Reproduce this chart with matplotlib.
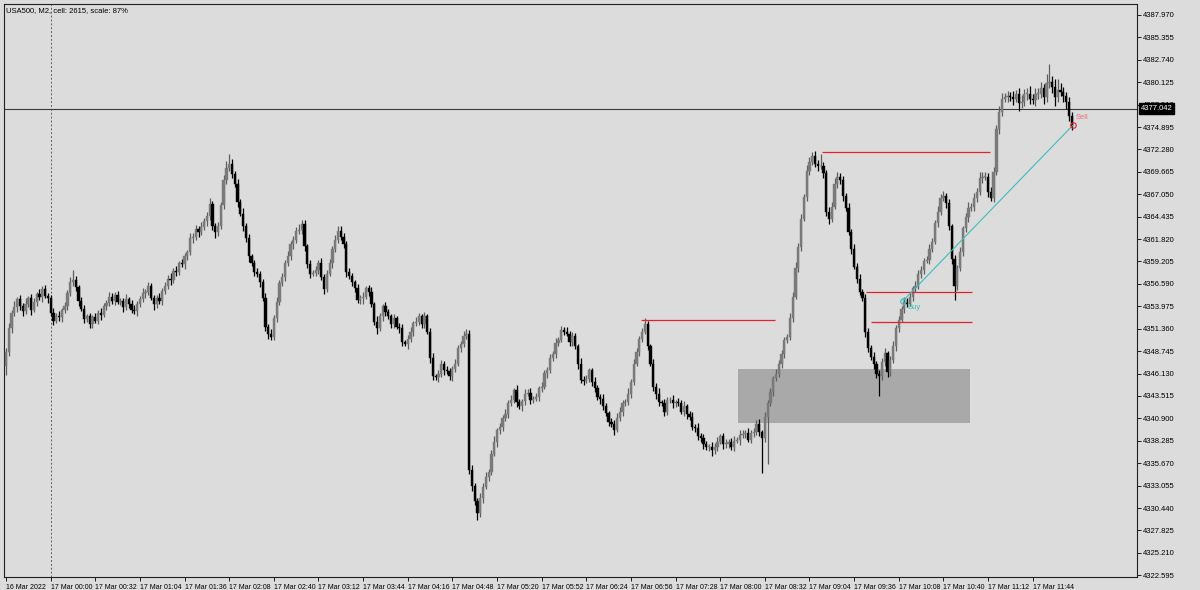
import matplotlib
matplotlib.use("Agg")
import matplotlib.pyplot as plt
from matplotlib.patches import Rectangle
import numpy as np

plt.rcParams['font.family'] = ['Liberation Sans', 'DejaVu Sans']

# ---------------- data ----------------
title_text = "USA500, M2, cell: 2615, scale: 87%"
first_open = 4347.0
closes = [
    4348.6, 4351.4, 4353.2, 4353.9, 4354.8, 4354.0, 4353.4, 4354.3, 4354.9, 4353.6,
    4354.5, 4355.4, 4355.1, 4356.0, 4355.2, 4354.9, 4353.2, 4352.3, 4352.9, 4352.7,
    4353.5, 4354.0, 4355.5, 4356.8, 4357.1, 4356.2, 4354.6, 4353.7, 4352.5, 4352.8,
    4351.9, 4352.7, 4352.3, 4353.2, 4353.0, 4354.0, 4354.4, 4355.1, 4354.6, 4355.3,
    4354.5, 4354.6, 4353.9, 4354.8, 4354.3, 4353.6, 4353.4, 4354.3, 4354.8, 4355.5,
    4355.7, 4356.3, 4355.0, 4354.2, 4354.9, 4354.6, 4355.8, 4356.3, 4357.2, 4357.0,
    4358.1, 4358.0, 4359.0, 4358.9, 4359.8, 4360.3, 4361.9, 4362.1, 4363.0, 4362.7,
    4363.2, 4363.9, 4364.5, 4365.9, 4363.4, 4362.6, 4363.3, 4365.8, 4368.7, 4370.1,
    4370.6, 4369.4, 4368.3, 4366.2, 4364.8, 4363.3, 4361.9, 4359.8, 4359.0, 4358.0,
    4357.8, 4356.8, 4354.9, 4351.6, 4350.8, 4350.4, 4352.6, 4354.5, 4356.7, 4357.4,
    4359.0, 4359.8, 4361.3, 4361.7, 4362.8, 4362.9, 4363.6, 4361.0, 4358.9, 4357.8,
    4357.9, 4358.2, 4359.0, 4357.4, 4356.0, 4357.8, 4359.0, 4360.7, 4361.7, 4362.8,
    4362.1, 4361.3, 4358.0, 4357.5, 4356.8, 4356.1, 4354.7, 4354.9, 4355.1, 4356.1,
    4355.7, 4354.2, 4352.2, 4351.4, 4352.8, 4354.0, 4353.3, 4352.8, 4351.9, 4352.6,
    4351.6, 4351.4, 4349.8, 4349.6, 4350.2, 4351.0, 4352.0, 4352.2, 4352.8, 4351.9,
    4352.8, 4351.0, 4347.9, 4345.8, 4345.7, 4346.1, 4347.3, 4346.5, 4346.4, 4345.8,
    4346.7, 4347.3, 4349.1, 4349.6, 4350.5, 4350.8, 4334.9, 4333.0, 4331.2, 4329.8,
    4331.6, 4332.9, 4334.1, 4334.7, 4336.8, 4338.2, 4339.5, 4339.9, 4340.9, 4341.4,
    4342.7, 4343.1, 4344.2, 4342.8, 4342.3, 4342.9, 4343.8, 4343.9, 4343.1, 4343.2,
    4343.4, 4344.4, 4344.6, 4346.2, 4346.6, 4347.9, 4348.4, 4349.7, 4350.1, 4351.2,
    4351.0, 4350.8, 4349.8, 4350.5, 4349.3, 4347.3, 4345.4, 4345.3, 4345.5, 4346.5,
    4345.2, 4344.4, 4343.4, 4343.2, 4342.3, 4341.5, 4340.5, 4340.3, 4339.6, 4340.9,
    4341.7, 4342.7, 4342.8, 4343.8, 4345.2, 4347.3, 4348.7, 4350.2, 4351.0, 4351.9,
    4349.3, 4347.3, 4344.6, 4343.8, 4342.8, 4342.7, 4341.7, 4343.0, 4343.1, 4342.7,
    4342.8, 4342.7, 4341.7, 4342.3, 4341.4, 4341.1, 4339.9, 4339.8, 4338.8, 4338.6,
    4337.9, 4337.6, 4337.6, 4337.2, 4337.6, 4338.2, 4338.8, 4337.9, 4337.9, 4338.2,
    4337.6, 4338.3, 4338.4, 4339.0, 4339.1, 4339.2, 4338.4, 4339.2, 4339.3, 4340.3,
    4339.3, 4338.6, 4341.1, 4342.7, 4344.0, 4345.6, 4346.1, 4347.3, 4348.4, 4350.0,
    4350.4, 4352.6, 4355.1, 4358.4, 4360.9, 4364.2, 4366.7, 4369.8, 4370.8, 4371.5,
    4370.6, 4370.3, 4370.3, 4369.5, 4365.0, 4364.2, 4365.6, 4368.3, 4369.1, 4368.7,
    4366.8, 4365.4, 4362.7, 4360.7, 4358.6, 4357.2, 4355.7, 4354.9, 4351.0, 4349.1,
    4348.1, 4347.3, 4346.1, 4345.8, 4347.5, 4348.5, 4346.3, 4347.7, 4349.3, 4351.4,
    4352.4, 4353.7, 4354.5, 4354.3, 4355.1, 4356.1, 4356.3, 4357.8, 4358.2, 4359.3,
    4359.4, 4360.7, 4361.5, 4363.7, 4365.0, 4366.6, 4366.8, 4366.0, 4363.3, 4359.5,
    4356.3, 4358.4, 4360.3, 4363.1, 4364.4, 4365.4, 4365.6, 4366.6, 4367.3, 4368.9,
    4369.1, 4369.1, 4367.3, 4366.6, 4369.7, 4374.7, 4376.7, 4378.2, 4378.4, 4378.5,
    4378.4, 4378.2, 4378.8, 4377.7, 4377.8, 4378.8, 4378.8, 4378.2, 4378.1, 4378.8,
    4378.8, 4379.4, 4378.4, 4380.0, 4380.2, 4379.6, 4378.4, 4379.2, 4379.0, 4378.5,
    4377.8, 4376.2, 4375.0,
]
upper_wick = [
    0.5, 0.6, 0.4, 0.7, 0.3, 0.5, 0.4, 0.6, 0.3, 0.5,
    0.4, 0.3, 0.6, 0.4, 0.5, 0.3, 0.4, 0.6, 0.3, 0.5,
    0.3, 0.5, 0.4, 0.6, 1.1, 0.4, 0.3, 0.5, 0.4, 0.3,
    0.4, 0.3, 0.5, 0.3, 0.6, 0.4, 0.3, 0.5, 0.4, 0.3,
    0.5, 0.3, 0.4, 0.6, 0.3, 0.4, 0.5, 0.3, 0.4, 0.6,
    0.3, 0.5, 0.4, 0.3, 0.4, 0.6, 0.3, 0.5, 0.4, 0.7,
    0.4, 0.6, 0.3, 0.5, 0.4, 0.3, 0.6, 0.4, 0.5, 0.3,
    0.6, 0.4, 0.5, 0.7, 0.4, 0.3, 0.5, 0.4, 0.6, 0.8,
    1.1, 0.6, 0.4, 0.5, 0.3, 0.6, 0.4, 0.5, 0.3, 0.4,
    0.5, 0.3, 0.4, 0.6, 0.3, 0.5, 0.4, 0.6, 0.4, 0.5,
    0.4, 0.6, 0.3, 0.5, 0.4, 0.7, 0.5, 0.4, 0.3, 0.5,
    0.3, 0.5, 0.4, 0.6, 0.3, 0.4, 0.5, 0.3, 0.6, 0.5,
    0.6, 0.4, 0.3, 0.5, 0.4, 0.3, 0.5, 0.4, 0.6, 0.3,
    0.4, 0.5, 0.3, 0.6, 0.4, 0.3, 0.5, 0.4, 0.3, 0.5,
    0.3, 0.4, 0.5, 0.3, 0.4, 0.6, 0.3, 0.5, 0.4, 0.3,
    0.5, 0.3, 0.4, 0.6, 0.3, 0.5, 0.4, 0.3, 0.5, 0.4,
    0.3, 0.5, 0.4, 0.3, 0.6, 0.5, 0.4, 0.6, 0.3, 0.4,
    0.6, 0.4, 0.5, 0.3, 0.4, 0.6, 0.3, 0.5, 0.4, 0.6,
    0.4, 0.5, 0.3, 0.6, 0.4, 0.3, 0.5, 0.4, 0.6, 0.3,
    0.5, 0.3, 0.6, 0.4, 0.3, 0.5, 0.4, 0.6, 0.3, 0.5,
    0.4, 0.6, 0.3, 0.5, 0.4, 0.3, 0.6, 0.4, 0.5, 0.3,
    0.3, 0.5, 0.4, 0.3, 0.6, 0.4, 0.3, 0.5, 0.4, 0.6,
    0.5, 0.3, 0.4, 0.6, 0.3, 0.5, 0.4, 0.3, 0.5, 0.7,
    0.4, 0.3, 0.5, 0.4, 0.6, 0.3, 0.5, 0.4, 0.3, 0.5,
    0.3, 0.5, 0.4, 0.6, 0.3, 0.4, 0.5, 0.3, 0.6, 0.4,
    0.5, 0.4, 0.3, 0.6, 0.4, 0.5, 0.3, 0.4, 0.6, 0.3,
    0.4, 0.6, 0.3, 0.5, 0.4, 0.3, 0.6, 0.4, 0.5, 0.4,
    0.5, 0.3, 0.6, 0.4, 0.5, 0.3, 0.6, 0.4, 0.5, 0.4,
    0.4, 0.6, 0.5, 0.7, 0.5, 0.6, 0.4, 0.7, 0.6, 0.5,
    0.6, 0.4, 1.5, 0.5, 0.4, 0.6, 0.5, 0.7, 0.5, 0.4,
    0.5, 0.4, 0.6, 0.3, 0.5, 0.4, 0.6, 0.3, 0.5, 0.4,
    0.4, 0.6, 0.3, 0.5, 0.4, 0.6, 0.3, 0.5, 0.6, 0.4,
    0.5, 0.3, 0.6, 0.4, 0.5, 0.3, 0.6, 0.4, 0.5, 0.3,
    0.4, 0.6, 0.5, 0.4, 0.7, 0.5, 0.6, 0.4, 0.5, 0.3,
    0.5, 0.4, 0.6, 0.3, 0.5, 0.7, 0.4, 0.6, 0.5, 0.8,
    0.6, 0.5, 0.4, 0.6, 0.5, 0.4, 0.6, 0.7, 0.5, 0.6,
    0.5, 0.7, 0.4, 0.6, 0.8, 0.5, 0.6, 0.9, 0.5, 0.7,
    0.6, 0.8, 0.5, 1.1, 2.1, 0.7, 0.9, 1.3, 0.8, 0.6,
    0.5, 0.6, 0.4,
]
lower_wick = [
    1.0, 0.4, 0.5, 0.3, 0.6, 0.4, 0.5, 0.3, 0.4, 0.6,
    0.3, 0.5, 0.4, 0.6, 0.3, 0.5, 0.4, 0.5, 0.3, 0.4,
    0.5, 0.3, 0.4, 0.3, 0.5, 0.4, 0.6, 0.3, 0.5, 0.4,
    0.4, 0.5, 0.3, 0.4, 0.6, 0.3, 0.5, 0.4, 0.3, 0.5,
    0.3, 0.4, 0.6, 0.3, 0.5, 0.4, 0.3, 0.5, 0.4, 0.3,
    0.5, 0.4, 0.3, 0.6, 0.4, 0.3, 0.5, 0.4, 0.3, 0.5,
    0.3, 0.5, 0.4, 0.3, 0.6, 0.4, 0.3, 0.5, 0.4, 0.6,
    0.4, 0.3, 0.6, 0.4, 0.5, 0.6, 0.4, 0.3, 0.5, 0.4,
    0.3, 0.5, 0.4, 0.6, 0.3, 0.5, 0.4, 0.6, 0.3, 0.5,
    0.4, 0.6, 0.3, 0.5, 0.6, 0.4, 0.3, 0.5, 0.4, 0.3,
    0.5, 0.3, 0.4, 0.6, 0.3, 0.4, 0.5, 0.6, 0.4, 0.5,
    0.3, 0.4, 0.5, 0.3, 0.6, 0.4, 0.3, 0.5, 0.4, 0.3,
    0.4, 0.5, 0.6, 0.3, 0.4, 0.5, 0.3, 0.4, 0.6, 0.3,
    0.5, 0.3, 0.4, 0.6, 0.3, 0.5, 0.4, 0.3, 0.5, 0.4,
    0.3, 0.5, 0.4, 0.3, 0.6, 0.4, 0.5, 0.3, 0.4, 0.5,
    0.4, 0.3, 0.5, 0.4, 0.3, 0.6, 0.4, 0.5, 0.3, 0.4,
    0.5, 0.4, 0.3, 0.5, 0.4, 0.3, 0.5, 0.6, 0.4, 0.8,
    0.4, 0.6, 0.3, 0.5, 0.4, 0.3, 0.6, 0.4, 0.5, 0.3,
    0.5, 0.3, 0.4, 0.6, 0.3, 0.5, 0.4, 0.3, 0.5, 0.4,
    0.3, 0.5, 0.4, 0.3, 0.6, 0.4, 0.3, 0.5, 0.4, 0.3,
    0.4, 0.3, 0.5, 0.4, 0.3, 0.6, 0.4, 0.5, 0.3, 0.4,
    0.5, 0.4, 0.3, 0.6, 0.4, 0.3, 0.5, 0.4, 0.6, 0.3,
    0.3, 0.5, 0.4, 0.3, 0.5, 0.4, 0.3, 0.5, 0.4, 0.3,
    0.4, 0.3, 0.5, 0.6, 0.4, 0.3, 0.5, 0.4, 0.3, 0.6,
    0.5, 0.4, 0.3, 0.5, 0.6, 0.4, 0.3, 0.5, 0.4, 0.5,
    0.6, 0.4, 0.5, 0.7, 0.4, 0.5, 0.3, 0.6, 0.4, 0.5,
    0.4, 0.5, 0.3, 0.6, 0.4, 0.5, 0.3, 0.4, 0.5, 0.3,
    0.5, 4.1, 0.4, 5.5, 0.4, 0.5, 0.3, 0.4, 0.5, 0.4,
    0.3, 0.4, 0.5, 0.3, 0.4, 0.5, 0.3, 0.4, 0.5, 0.3,
    0.4, 0.5, 0.3, 0.6, 0.5, 0.6, 0.4, 0.3, 0.5, 0.4,
    0.5, 0.3, 0.4, 0.6, 0.3, 0.5, 0.4, 0.3, 0.6, 0.5,
    0.4, 0.6, 0.5, 2.3, 0.4, 0.5, 0.6, 0.4, 0.3, 0.5,
    0.4, 0.3, 0.5, 0.4, 0.3, 0.5, 0.4, 0.3, 0.5, 0.4,
    0.3, 0.5, 0.4, 0.3, 0.5, 0.4, 0.3, 0.5, 0.4, 0.6,
    1.6, 0.4, 0.3, 0.5, 0.4, 0.6, 0.3, 0.5, 0.4, 0.3,
    0.5, 0.4, 0.6, 0.3, 0.5, 0.4, 0.6, 0.5, 0.4, 0.6,
    0.5, 0.7, 0.4, 0.9, 0.6, 0.5, 0.7, 0.6, 0.5, 0.8,
    0.6, 0.5, 0.8, 0.6, 0.5, 0.7, 1.0, 0.6, 0.5, 0.7,
    0.8, 0.6, 0.5,
]

price_ticks = [4322.595, 4325.210, 4327.825, 4330.440, 4333.055, 4335.670, 4338.285,
               4340.900, 4343.515, 4346.130, 4348.745, 4351.360, 4353.975, 4356.590,
               4359.205, 4361.820, 4364.435, 4367.050, 4369.665, 4372.280, 4374.895,
               4377.510, 4380.125, 4382.740, 4385.355, 4387.970]
time_tick_bars = [0, 16, 32, 48, 64, 80, 96, 112, 128, 144, 160, 176, 192, 208, 224,
                  240, 256, 272, 288, 304, 320, 336, 352, 368]
time_tick_labels = ["16 Mar 2022", "17 Mar 00:00", "17 Mar 00:32", "17 Mar 01:04",
                    "17 Mar 01:36", "17 Mar 02:08", "17 Mar 02:40", "17 Mar 03:12",
                    "17 Mar 03:44", "17 Mar 04:16", "17 Mar 04:48", "17 Mar 05:20",
                    "17 Mar 05:52", "17 Mar 06:24", "17 Mar 06:56", "17 Mar 07:28",
                    "17 Mar 08:00", "17 Mar 08:32", "17 Mar 09:04", "17 Mar 09:36",
                    "17 Mar 10:08", "17 Mar 10:40", "17 Mar 11:12", "17 Mar 11:44"]
current_price = 4377.042
day_separator_bar = 16

zone_bars = (262.4, 345.5)
zone_prices = (4340.35, 4346.65)

level_starts = [227.6, 292.5, 308.2, 309.9]
level_ends = [275.6, 352.7, 346.3, 346.3]
level_prices = [4352.4, 4372.0, 4355.7, 4352.2]

trade_bars = [321.5, 382.4]
trade_prices = [4354.6, 4375.1]

# ---------------- plot ----------------
bg = '#dcdcdc'
fig = plt.figure(figsize=(12, 5.9), dpi=100, facecolor=bg)
ax = fig.add_axes([4 / 1200, 13 / 590, 1133 / 1200, 573 / 590], facecolor=bg)

closes_a = np.array(closes)
opens_a = np.concatenate([[first_open], closes_a[:-1]])
highs_a = np.maximum(opens_a, closes_a) + np.array(upper_wick)
lows_a = np.minimum(opens_a, closes_a) - np.array(lower_wick)
idx = np.arange(len(closes_a))
bull = closes_a >= opens_a

bull_body = '#7a7a7a'
bull_wick = '#5e5e5e'
bear_col = '#000000'

# zone rectangle
ax.add_patch(Rectangle((zone_bars[0], zone_prices[0]), zone_bars[1] - zone_bars[0],
                       zone_prices[1] - zone_prices[0], facecolor='#a9a9a9',
                       edgecolor='none', zorder=1))

ax.axvline(day_separator_bar, color='#556070', lw=0.7, ls=(0, (2, 2)), zorder=1)

wick_cols = np.where(bull, bull_wick, bear_col)
body_cols = np.where(bull, bull_body, bear_col)
ax.vlines(idx, lows_a, highs_a, colors=wick_cols, lw=0.9, zorder=3)
body_bottom = np.minimum(opens_a, closes_a)
body_h = np.maximum(np.abs(closes_a - opens_a), 0.08)
ax.bar(idx, body_h, bottom=body_bottom, width=0.8, color=body_cols,
       edgecolor=body_cols, linewidth=0.3, zorder=4)

ax.axhline(current_price, color='#3a3a3a', lw=0.8, zorder=2)

ax.hlines(level_prices, level_starts, level_ends, colors='#e8202a', lw=0.9, zorder=5)

ax.plot(trade_bars, trade_prices, color='#40bcbc', lw=0.8, zorder=6)
ax.plot(trade_bars[0], trade_prices[0], 'o', ms=4, mfc='none', mec='#40bcbc', mew=0.8, zorder=7)
ax.plot(trade_bars[1], trade_prices[1], 'o', ms=4, mfc='none', mec='#e8202a', mew=0.8, zorder=7)
ax.text(trade_bars[0] + 1.5, trade_prices[0] - 0.3, "Buy", color='#40bcbc', fontsize=5.5,
        ha='left', va='top', zorder=7)
ax.text(trade_bars[1] + 1.2, trade_prices[1] + 0.5, "Sell", color='#f07070', fontsize=5.5,
        ha='left', va='bottom', zorder=7)

ax.set_xlim(-0.72, 405.4)
ax.set_ylim(4322.39, 4389.25)

ax.yaxis.tick_right()
ax.set_yticks(price_ticks)
ax.set_yticklabels([f"{p:.3f}" for p in price_ticks])
ax.set_xticks(time_tick_bars)
ax.set_xticklabels(time_tick_labels, ha='left')
ax.tick_params(axis='both', direction='out', length=3, width=0.6, labelsize=5.5,
               colors='#000000', pad=1.5)
ax.tick_params(axis='x', pad=2, labelsize=5.0)

for s in ax.spines.values():
    s.set_color('#202020')
    s.set_linewidth(0.8)

ax.text(0.002, 0.994, title_text, transform=ax.transAxes, fontsize=5.5, ha='left',
        va='top', color='#000000')

ax.annotate(f"{current_price:.3f}", xy=(1.0, current_price),
            xycoords=('axes fraction', 'data'), xytext=(2.5, 0), textcoords='offset points',
            ha='left', va='center', fontsize=5.5, color='white',
            bbox=dict(boxstyle='square,pad=0.25', fc='black', ec='black'), zorder=10,
            annotation_clip=False)

fig.savefig("out.png", dpi=100, facecolor=bg)
